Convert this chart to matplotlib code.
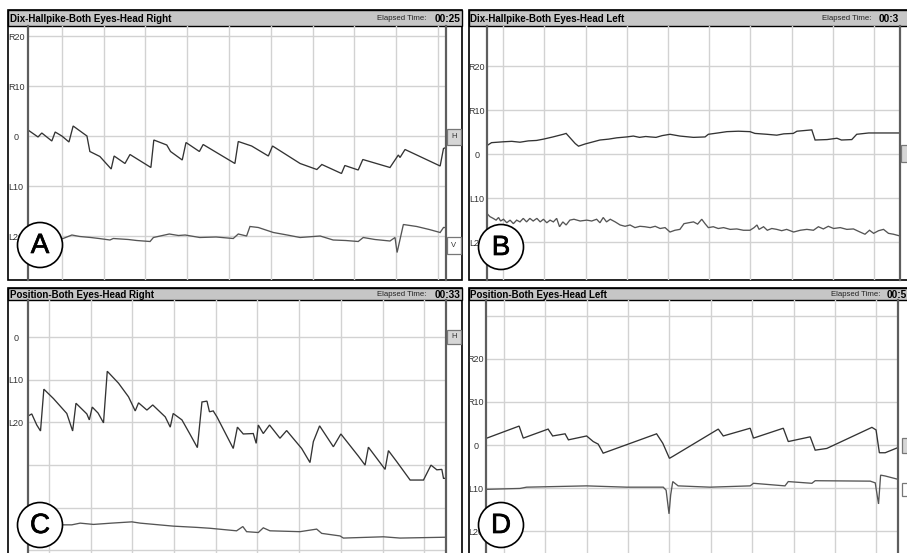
import numpy as np
import matplotlib
matplotlib.use("Agg")
import matplotlib.pyplot as plt
import matplotlib.patheffects as pe
from matplotlib.patches import Rectangle, Circle

W, H = 907, 553
NARROW = ['Liberation Sans Narrow', 'Liberation Sans', 'DejaVu Sans']

# ---------------- data (time in s, eye position in deg; R = +, L = -) ----------------
# A: Dix-Hallpike, both eyes, head right
a_h_t = [0, 0.24, 0.33, 0.57, 0.65, 0.81, 0.98, 1.08, 1.41, 1.48, 1.72, 1.99, 2.06, 2.32, 2.44,
         2.94, 3.01, 3.32, 3.41, 3.69, 3.78, 4.10, 4.19, 4.95, 5.03, 5.35, 5.75, 5.85, 6.51,
         6.91, 7.03, 7.50, 7.58, 7.90, 8.01, 8.66, 8.86, 8.90, 9.02, 9.86, 9.94, 10.0]
a_h_deg = [1.2, -0.2, 0.6, -1.0, 0.8, 0.0, -1.2, 2.0, 0.0, -3.1, -4.1, -6.6, -4.0, -5.5, -3.7,
           -6.3, -0.8, -1.8, -3.1, -4.8, -1.3, -3.1, -1.7, -5.5, -1.1, -2.0, -4.0, -2.0, -5.5,
           -6.7, -5.7, -7.5, -5.9, -6.8, -4.7, -6.3, -3.8, -4.3, -2.7, -6.0, -2.5, -2.3]
a_v_t = [0, 0.5, 0.84, 1.05, 1.24, 1.5, 1.7, 1.96, 2.04, 2.4, 2.6, 2.92, 3.00, 3.38, 3.6, 3.76,
         4.11, 4.5, 4.91, 5.03, 5.23, 5.31, 5.51, 5.87, 6.2, 6.51, 6.99, 7.30, 7.6, 7.90, 8.02,
         8.3, 8.66, 8.78, 8.83, 8.98, 9.30, 9.6, 9.86, 9.94, 9.99]
a_v_deg = [-20.0, -20.3, -20.5, -19.8, -20.1, -20.3, -20.5, -20.8, -20.5, -20.7, -20.9, -21.1,
           -20.3, -19.6, -19.9, -19.8, -20.3, -20.2, -20.5, -19.6, -20.0, -18.1, -18.3, -19.3,
           -19.8, -20.3, -20.0, -20.8, -20.9, -21.1, -20.3, -20.7, -21.0, -20.3, -23.3, -17.7,
           -18.1, -18.7, -19.3, -18.3, -18.3]

# B: Dix-Hallpike, both eyes, head left
b_h_t = [0.01, 0.11, 0.40, 0.6, 0.8, 1.0, 1.2, 1.37, 1.6, 1.85, 1.92, 2.14, 2.22, 2.38, 2.74,
         2.95, 3.15, 3.39, 3.55, 3.7, 3.85, 3.96, 4.1, 4.25, 4.44, 4.68, 5.01, 5.29, 5.37, 5.6,
         5.82, 6.1, 6.38, 6.50, 6.79, 7.03, 7.2, 7.43, 7.52, 7.88, 7.96, 8.25, 8.49, 8.6, 8.85,
         8.97, 9.26, 10.02]
b_h_deg = [2.0, 2.6, 2.8, 2.9, 2.7, 3.0, 3.1, 3.4, 3.9, 4.5, 4.7, 2.4, 1.8, 2.3, 3.2,
           3.4, 3.7, 3.9, 4.1, 3.8, 4.0, 3.9, 3.8, 4.2, 4.5, 4.1, 3.8, 3.9, 4.5, 4.8,
           5.1, 5.2, 5.1, 4.7, 4.5, 4.3, 4.6, 4.7, 5.2, 5.5, 3.2, 3.3, 3.6, 3.2, 3.3,
           4.5, 4.8, 4.8]
b_v_t = [0.01, 0.07, 0.15, 0.22, 0.28, 0.33, 0.40, 0.48, 0.56, 0.64, 0.72, 0.80, 0.88, 0.96,
         1.04, 1.12, 1.21, 1.29, 1.37, 1.45, 1.53, 1.61, 1.69, 1.76, 1.84, 1.92, 2.01, 2.11,
         2.26, 2.42, 2.54, 2.66, 2.74, 2.82, 2.90, 2.99, 3.11, 3.23, 3.35, 3.47, 3.59, 3.71,
         3.83, 3.96, 4.08, 4.20, 4.32, 4.44, 4.56, 4.68, 4.78, 4.89, 5.01, 5.11, 5.21, 5.29,
         5.37, 5.49, 5.61, 5.74, 5.90, 6.06, 6.22, 6.38, 6.48, 6.55, 6.60, 6.71, 6.80, 6.91,
         7.03, 7.15, 7.27, 7.44, 7.60, 7.76, 7.92, 8.04, 8.16, 8.28, 8.41, 8.57, 8.73, 8.89,
         9.05, 9.17, 9.28, 9.38, 9.50, 9.62, 9.74, 9.86, 10.02]
b_v_deg = [-13.6, -14.2, -14.6, -15.0, -14.4, -15.2, -14.8, -15.6, -15.0, -15.8, -15.0, -15.4,
           -14.6, -15.4, -14.6, -15.2, -14.6, -15.4, -14.8, -15.6, -15.0, -15.4, -14.6, -16.5,
           -15.4, -16.1, -15.0, -14.8, -15.2, -15.0, -15.2, -14.8, -15.6, -14.4, -15.4, -14.8,
           -15.4, -16.1, -16.4, -16.1, -16.7, -16.4, -16.5, -16.7, -16.4, -16.9, -16.7, -17.7,
           -17.3, -17.1, -15.8, -15.6, -15.4, -15.9, -14.8, -15.8, -16.7, -16.5, -16.9, -16.7,
           -17.1, -17.0, -17.3, -17.3, -16.7, -16.1, -17.1, -16.5, -17.3, -16.9, -17.1, -17.4,
           -17.1, -17.7, -17.3, -17.1, -17.3, -16.5, -17.0, -16.4, -16.9, -16.7, -17.1, -17.0,
           -17.7, -18.2, -17.3, -18.0, -17.4, -17.1, -18.0, -18.2, -18.6]

# C: positional, both eyes, head right
c_h_t = [0, 0.09, 0.21, 0.30, 0.38, 0.61, 0.93, 1.07, 1.15, 1.41, 1.47, 1.54, 1.68, 1.81, 1.90,
         2.17, 2.41, 2.57, 2.65, 2.85, 2.99, 3.29, 3.41, 3.48, 3.69, 3.88, 4.06, 4.17, 4.29,
         4.35, 4.44, 4.53, 4.92, 5.02, 5.16, 5.40, 5.47, 5.52, 5.64, 5.79, 6.04, 6.20, 6.56,
         6.76, 6.84, 6.99, 7.32, 7.50, 7.92, 8.08, 8.16, 8.56, 8.64, 8.84, 9.16, 9.48, 9.66,
         9.80, 9.92, 9.96, 10.02]
c_h_deg = [-18.5, -18.0, -20.6, -22.0, -12.2, -14.4, -17.9, -22.0, -15.5, -18.0, -19.4, -16.4,
           -17.8, -20.1, -8.0, -10.8, -14.0, -17.3, -15.4, -17.1, -15.9, -18.7, -21.1, -17.9,
           -19.4, -22.7, -25.9, -15.2, -15.0, -17.5, -17.3, -18.7, -26.1, -21.1, -22.7, -22.6,
           -24.9, -20.6, -22.6, -20.6, -23.7, -21.9, -26.1, -29.4, -24.5, -20.8, -25.7, -22.7,
           -27.9, -30.0, -25.8, -31.0, -26.6, -29.2, -33.5, -33.5, -30.0, -31.1, -31.0, -33.1,
           -33.1]
c_v_t = [0, 0.85, 1.05, 1.25, 1.57, 2.0, 2.49, 2.69, 3.48, 4.05, 4.36, 5.00, 5.15, 5.24, 5.52,
         5.64, 5.80, 6.52, 6.92, 7.04, 7.48, 7.56, 8.52, 8.92, 10.02]
c_v_deg = [-44.0, -44.0, -44.0, -43.6, -43.9, -43.6, -43.3, -43.6, -44.3, -44.6, -44.8, -45.4,
           -44.4, -45.6, -45.8, -44.7, -45.4, -45.6, -45.0, -46.0, -46.6, -47.1, -46.8, -47.1,
           -46.9]

# D: positional, both eyes, head left
d_h_t = [0.02, 0.80, 0.90, 1.50, 1.61, 1.91, 1.99, 2.43, 2.59, 2.71, 2.83, 4.12, 4.27, 4.43,
         4.52, 5.61, 5.73, 6.38, 6.46, 7.18, 7.30, 7.83, 7.95, 8.23, 9.32, 9.42, 9.50, 9.64,
         10.0]
d_h_deg = [1.6, 4.4, 1.6, 3.7, 2.1, 2.6, 1.2, 2.1, 0.8, 0.2, -1.9, 2.6, 0.4, -3.1,
           -2.6, 3.7, 2.1, 3.9, 1.6, 3.9, 0.8, 1.9, -1.2, -0.8, 4.1, 3.5, -1.8, -1.8,
           -0.4]
d_v_t = [0.02, 0.82, 0.98, 2.43, 3.40, 4.28, 4.35, 4.42, 4.46, 4.51, 4.64, 5.41, 6.38, 6.46,
         7.22, 7.30, 7.87, 7.95, 9.28, 9.40, 9.48, 9.53, 9.64, 9.84, 10.0]
d_v_deg = [-10.3, -10.1, -9.8, -9.5, -9.8, -9.8, -10.5, -16.0, -11.6, -8.5, -9.5, -9.8, -9.5,
           -8.9, -9.5, -8.5, -8.9, -8.3, -8.4, -8.8, -13.7, -7.0, -7.2, -7.7, -8.1]

rl_ticks = [20, 10, 0, -10, -20]
rl_labels = ['R20', 'R10', '0', 'L10', 'L20']

panels = [
    dict(title='Dix-Hallpike-Both Eyes-Head Right', elapsed='00:25', letter='A',
         frame=(8, 10, 462, 280), bar=26, plot=(28, 26, 446, 280),
         xlim=(0, 10.0), ylim=(-28.8, 22.0), xgrid=0.81,
         yticks=rl_ticks, ylabels=rl_labels, pad=8.6,
         h=(a_h_t, a_h_deg), v=(a_v_t, a_v_deg),
         el_x=(377, 435), circle=(40, 245),
         boxes=[(447, 129, 461, 145, 'H', '#d6d6d6'), (447, 237, 461, 254, 'V', 'white')]),
    dict(title='Dix-Hallpike-Both Eyes-Head Left', elapsed='00:3', letter='B',
         frame=(469, 10, 925, 280), bar=26, plot=(487, 26, 900, 280),
         xlim=(0, 10.02), ylim=(-28.6, 29.1), xgrid=0.39,
         yticks=rl_ticks, ylabels=rl_labels, pad=7.4,
         h=(b_h_t, b_h_deg), v=(b_v_t, b_v_deg),
         el_x=(822, 879), circle=(501, 247),
         boxes=[(901, 145, 915, 162, '', '#d6d6d6')]),
    dict(title='Position-Both Eyes-Head Right', elapsed='00:33', letter='C',
         frame=(8, 288, 462, 560), bar=300, plot=(28, 300, 446, 553),
         xlim=(0, 10.02), ylim=(-50.6, 8.7), xgrid=0.50,
         yticks=[0, -10, -20, -30, -40, -50], ylabels=['0', 'L10', 'L20', '', '', ''], pad=8.6,
         h=(c_h_t, c_h_deg), v=(c_v_t, c_v_deg),
         el_x=(377, 435), circle=(40, 525),
         boxes=[(447, 330, 461, 344, 'H', '#d6d6d6')]),
    dict(title='Position-Both Eyes-Head Left', elapsed='00:5', letter='D',
         frame=(469, 288, 925, 560), bar=300, plot=(486, 300, 898, 553),
         xlim=(0, 9.95), ylim=(-25.1, 33.7), xgrid=0.43,
         yticks=[30, 20, 10, 0, -10, -20], ylabels=['', 'R20', 'R10', '0', 'L10', 'L20'],
         pad=7.4, h=(d_h_t, d_h_deg), v=(d_v_t, d_v_deg),
         el_x=(831, 887), circle=(501, 525),
         boxes=[(902, 438, 915, 453, '', '#d6d6d6'), (902, 483, 915, 496, '', 'white')]),
]


def fig_rect(x0, y0, x1, y1):
    return [x0 / W, 1 - y1 / H, (x1 - x0) / W, (y1 - y0) / H]


fig = plt.figure(figsize=(W / 100, H / 100), dpi=100)
fig.patch.set_facecolor('white')

bg = fig.add_axes([0, 0, 1, 1], zorder=0)
bg.set_xlim(0, W)
bg.set_ylim(H, 0)
bg.axis('off')

top = fig.add_axes([0, 0, 1, 1], zorder=10)
top.set_xlim(0, W)
top.set_ylim(H, 0)
top.axis('off')
top.patch.set_alpha(0)

for p in panels:
    fx0, fy0, fx1, fy1 = p['frame']
    # window frame + title bar
    bg.add_patch(Rectangle((fx0, fy0), fx1 - fx0, fy1 - fy0, facecolor='white',
                           edgecolor='black', lw=1.2))
    bg.add_patch(Rectangle((fx0, fy0), fx1 - fx0, p['bar'] - fy0, facecolor='#c6c6c6',
                           edgecolor='black', lw=1.0))
    ty = (fy0 + p['bar']) / 2 + 0.5
    bg.text(fx0 + 1.5, ty, p['title'], fontsize=7.0, fontweight='bold', family=NARROW,
            va='center', ha='left', color='black')
    bg.text(p['el_x'][0], ty, 'Elapsed Time:', fontsize=5.6, family=NARROW,
            va='center', ha='left', color='#222222')
    bg.text(p['el_x'][1], ty, p['elapsed'], fontsize=7.3, fontweight='bold', family=NARROW,
            va='center', ha='left', color='black')

    # trace area
    ax = fig.add_axes(fig_rect(*p['plot']), zorder=5)
    ax.set_facecolor('none')
    ax.set_xlim(*p['xlim'])
    ax.set_ylim(*p['ylim'])
    ax.set_xticks(np.arange(p['xgrid'], p['xlim'][1], 1.0))
    ax.set_xticklabels([])
    ax.set_yticks(p['yticks'])
    ax.set_yticklabels(p['ylabels'])
    ax.tick_params(axis='both', length=0)
    ax.tick_params(axis='y', pad=p['pad'], labelsize=6.5, labelcolor='#333333')
    for lbl in ax.get_yticklabels():
        lbl.set_horizontalalignment('center')
        lbl.set_family(NARROW)
    ax.grid(True, color='#d2d2d2', lw=1.0)
    ax.set_axisbelow(True)
    for side in ('top', 'bottom'):
        ax.spines[side].set_visible(False)
    for side in ('left', 'right'):
        ax.spines[side].set_color('#5e5e5e')
        ax.spines[side].set_linewidth(1.6)

    ax.plot(*p['h'], color='#333333', lw=0.95, solid_joinstyle='miter')
    ax.plot(*p['v'], color='#555555', lw=0.95, solid_joinstyle='miter')

    # channel markers at right
    for bx0, by0, bx1, by1, txt, fc in p['boxes']:
        top.add_patch(Rectangle((bx0, by0), bx1 - bx0, by1 - by0, facecolor=fc,
                                edgecolor='#777777', lw=0.9))
        if txt:
            top.text((bx0 + bx1) / 2, (by0 + by1) / 2, txt, fontsize=5.5, family=NARROW,
                     ha='center', va='center', color='#333333')

    # panel letter
    cx, cy = p['circle']
    top.add_patch(Circle((cx, cy), 22.5, facecolor='white', edgecolor='black', lw=1.2))
    top.text(cx, cy + 1, p['letter'], fontsize=20, family=NARROW, ha='center',
             va='center', color='black',
             path_effects=[pe.withStroke(linewidth=0.5, foreground='black')])

fig.savefig('out.png', dpi=100, facecolor='white')
